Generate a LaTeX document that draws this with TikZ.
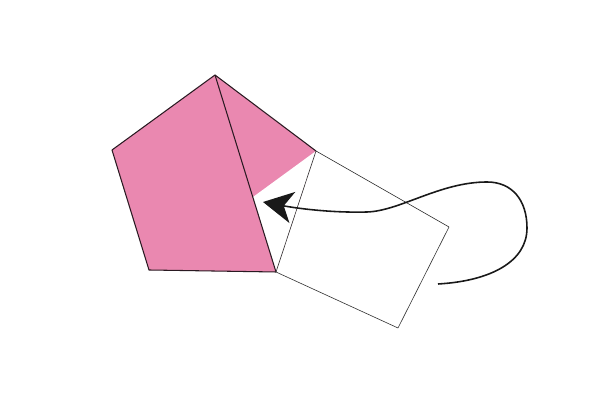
\documentclass[tikz,border=0pt]{standalone}
\usepackage{tikz}
\usetikzlibrary{arrows.meta}
\definecolor{foldpink}{HTML}{EA88B0}
\definecolor{inkdark}{HTML}{2A1A22}

\begin{document}
\begin{tikzpicture}[x=0.02cm, y=-0.02cm, >={Stealth[length=17pt, width=18pt, inset=5pt]},
  outline/.style={draw=inkdark, line width=0.6pt, line join=round},
  thin edge/.style={draw=black!80, line width=0.35pt, line join=round},
  move/.style={draw=black!90, line width=0.9pt, ->}]
\useasboundingbox (0,0) rectangle (606,404);
% corners of the pentagon and of the folded flap
\coordinate (top) at (215,75);
\coordinate (left) at (112,150);
\coordinate (bl) at (149,270);
\coordinate (br) at (276,272);
\coordinate (right) at (316,151);
\coordinate (crease) at (253,197);
\coordinate (far) at (449,227);
\coordinate (low) at (398,328);
\fill[foldpink] (top) -- (right) -- (br) -- (bl) -- (left) -- cycle;
\fill[white] (crease) -- (right) -- (br) -- cycle;
\draw[outline] (right) -- (top) -- (left) -- (bl) -- (br);
\draw[outline] (top) -- (br);
\draw[thin edge] (right) -- (far) -- (low) -- (br) -- cycle;
% the motion arrow
\coordinate (start) at (438,284);
\coordinate (tip) at (263,202);
\draw[move] (start) .. controls (490,281) and (527,262) .. (527,228)
  .. controls (527,200) and (512,182) .. (487,182)
  .. controls (440,182) and (400,211) .. (367,212)
  .. controls (330,213) and (295,208) .. (tip);
\end{tikzpicture}
\end{document}
